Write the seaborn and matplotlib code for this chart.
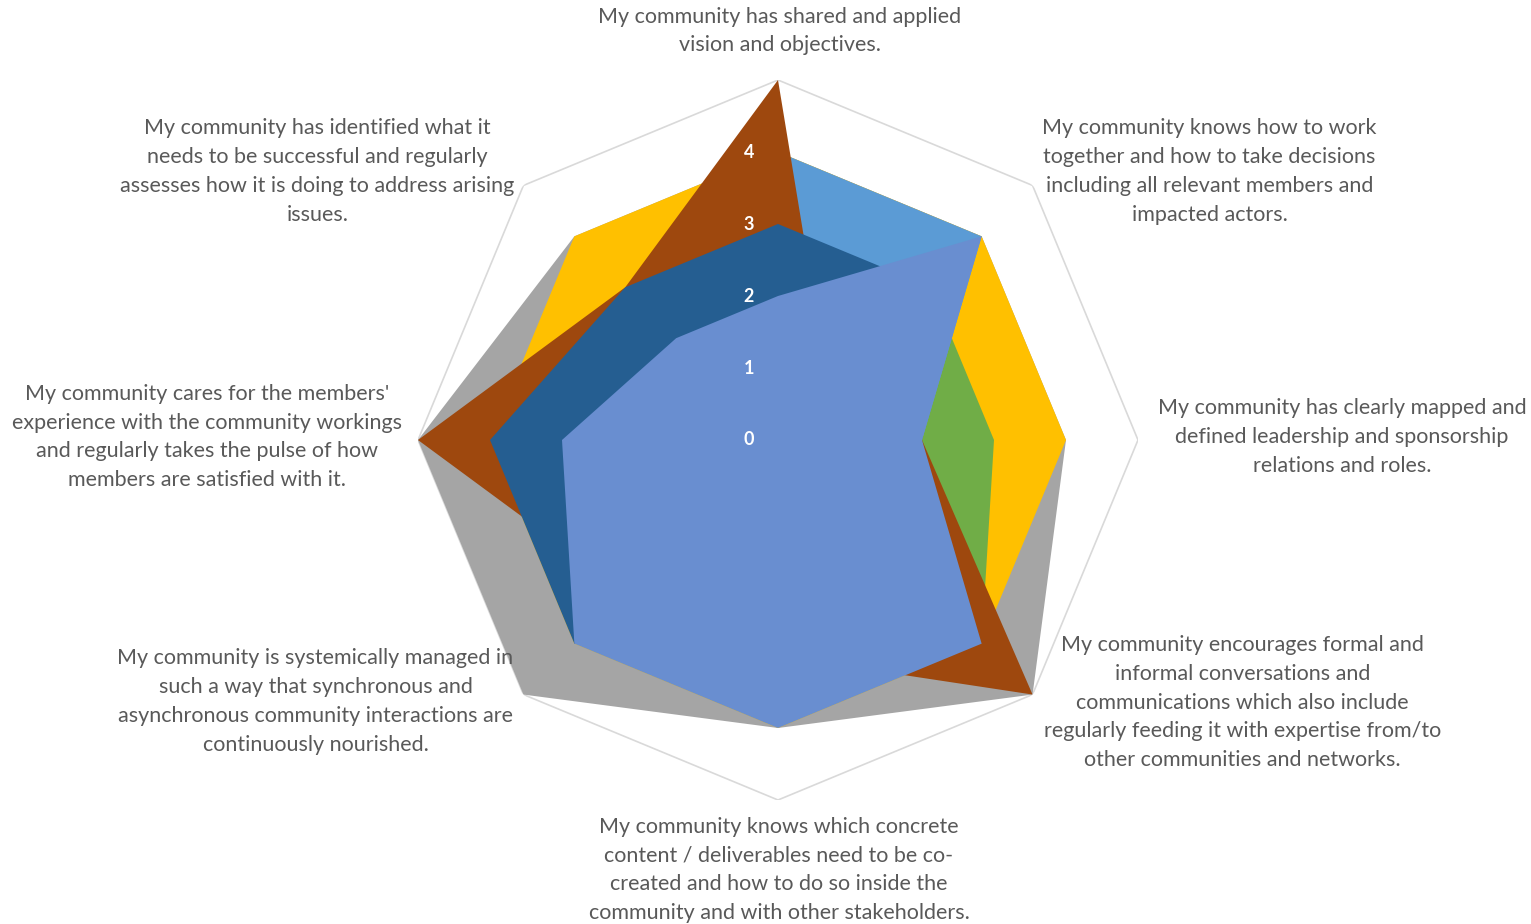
import numpy as np
import matplotlib
matplotlib.use("Agg")
import matplotlib.pyplot as plt
import seaborn as sns

categories = [
    "My community has shared and applied\nvision and objectives.",
    "My community knows how to work\ntogether and how to take decisions\nincluding all relevant members and\nimpacted actors.",
    "My community has clearly mapped and\ndefined leadership and sponsorship\nrelations and roles.",
    "My community encourages formal and\ninformal conversations and\ncommunications which also include\nregularly feeding it with expertise from/to\nother communities and networks.",
    "My community knows which concrete\ncontent / deliverables need to be co-\ncreated and how to do so inside the\ncommunity and with other stakeholders.",
    "My community is systemically managed in\nsuch a way that synchronous and\nasynchronous community interactions are\ncontinuously nourished.",
    "My community cares for the members'\nexperience with the community workings\nand regularly takes the pulse of how\nmembers are satisfied with it.",
    "My community has identified what it\nneeds to be successful and regularly\nassesses how it is doing to address arising\nissues.",
]

# series drawn back to front
series_gray = [4, 4, 4, 5, 4, 5, 5, 4]
series_gold = [4, 4, 4, 4, 4, 4, 4, 4]
series_green = [2, 3, 3, 4, 3, 3, 3, 2]
series_lightblue = [4, 4, 2, 3, 3, 3, 3, 3]
series_brown = [5, 1, 2, 5, 3, 3, 5, 3]
series_darkblue = [3, 3, 2, 3, 3, 4, 4, 3]
series_periwinkle = [2, 4, 2, 4, 4, 4, 3, 2]

series = [series_gray, series_gold, series_green, series_lightblue,
          series_brown, series_darkblue, series_periwinkle]
colors = ["#A5A5A5", "#FFC000", "#70AD47", "#5B9BD5",
          "#9E480E", "#255E91", "#698ED0"]

r_ticks = [0, 1, 2, 3, 4]
r_max = 5

# label offsets (pixels) from the outer vertex of each axis
label_offsets = [(2, 49), (177, 14), (204, 3), (210, -8),
                 (1, -70), (-208, -7), (-211, 3), (-206, 14)]

sns.set_theme(style="white")
plt.rcParams["font.family"] = ["Lato", "DejaVu Sans"]

W, H = 1531, 924
fig = plt.figure(figsize=(W / 100, H / 100), dpi=100)
ax = fig.add_axes([418 / W, 124 / H, 720 / W, 720 / H], projection="polar")
ax.set_theta_offset(np.pi / 2)
ax.set_theta_direction(-1)

n = len(categories)
theta = np.linspace(0, 2 * np.pi, n, endpoint=False)
theta_c = np.append(theta, theta[0])

# outer grid octagon
ring = [r_max] * (n + 1)
sns.lineplot(x=theta_c, y=ring, ax=ax, color="#D9D9D9", lw=1.2,
             sort=False, estimator=None, zorder=1)

pal = sns.color_palette(colors)
for i, vals in enumerate(series):
    v = np.append(vals, vals[0])
    ax.fill(theta_c, v, color=pal[i], lw=0, zorder=2 + i)

ax.set_ylim(0, r_max)
ax.set_xticks([])
ax.set_yticks([])
ax.grid(False)
ax.spines["polar"].set_visible(False)
ax.set_facecolor("none")

for t in r_ticks:
    ax.annotate(str(t), xy=(0, t), xytext=(-29, 0), textcoords="offset pixels",
                ha="center", va="center", color="white", fontsize=13,
                fontweight="bold", zorder=20)

for th, lab, off in zip(theta, categories, label_offsets):
    ax.annotate(lab, xy=(th, r_max), xytext=off, textcoords="offset pixels",
                ha="center", va="center", multialignment="center",
                color="#595959", fontsize=15.5, linespacing=1.55,
                annotation_clip=False)

fig.savefig("out.png", dpi=100, facecolor="white")
